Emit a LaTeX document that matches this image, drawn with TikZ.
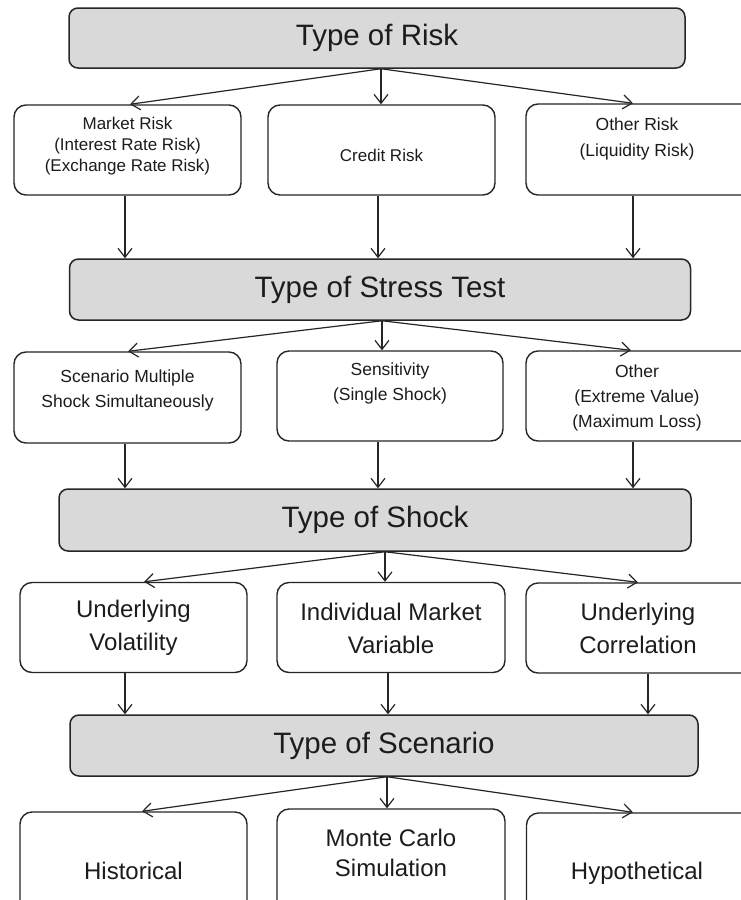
\documentclass[tikz,border=0pt]{standalone}
\usepackage{fontspec}
\setmainfont{Liberation Sans}
\usetikzlibrary{arrows.meta,calc}
\definecolor{hdrgray}{HTML}{D9D9D9}
\definecolor{txt}{HTML}{1C1C1C}
\tikzset{
  hdr/.style={draw=black!85, line width=1.5pt, fill=hdrgray, rounded corners=9pt, inner sep=0pt, text=txt,
    font=\fontsize{29.5}{34}\selectfont},
  box/.style={draw=black!85, line width=1.4pt, fill=white, rounded corners=12pt, inner sep=0pt},
  smalltxt/.style={align=center, text=txt, inner sep=0pt, font=\fontsize{17}{21}\selectfont},
  midtxt/.style={align=center, text=txt, inner sep=0pt, font=\fontsize{17.5}{25}\selectfont},
  bigtxt/.style={align=center, text=txt, inner sep=0pt, font=\fontsize{24}{33}\selectfont},
  arr/.style={draw=black!85, line width=1.2pt, -{Straight Barb[length=9pt,width=14pt,line width=1.2pt]}}
}
\begin{document}
\begin{tikzpicture}[x=1pt,y=-1pt]
\useasboundingbox (0,0) rectangle (741,900);
\fill[white] (0,0) rectangle (741,900);
\clip (0,0) rectangle (741,900);
% headers
\node[hdr, minimum width=616pt, minimum height=60pt] (h1) at (377,38) {Type of Risk};
\node[hdr, minimum width=621pt, minimum height=61pt] (h2) at (380,289.5) {Type of Stress Test};
\node[hdr, minimum width=632pt, minimum height=62pt] (h3) at (375,520) {Type of Shock};
\node[hdr, minimum width=628pt, minimum height=61pt] (h4) at (384,745.5) {Type of Scenario};
% row 2
\node[box, minimum width=227pt, minimum height=90pt] (r2a) at (127.5,150) {};
\node[box, minimum width=227pt, minimum height=90pt] (r2b) at (381.5,150) {};
\node[box, minimum width=227pt, minimum height=91pt] (r2c) at (639.5,149.5) {};
% row 4
\node[box, minimum width=227pt, minimum height=91pt] (r4a) at (127.5,397.5) {};
\node[box, minimum width=226pt, minimum height=90pt] (r4b) at (390,396) {};
\node[box, minimum width=227pt, minimum height=90pt] (r4c) at (639.5,396) {};
% row 6
\node[box, minimum width=227pt, minimum height=90pt] (r6a) at (133.5,627.5) {};
\node[box, minimum width=228pt, minimum height=90pt] (r6b) at (391,627.5) {};
\node[box, minimum width=227pt, minimum height=90pt] (r6c) at (639.5,628) {};
% row 8
\node[box, minimum width=227pt, minimum height=108pt] (r8a) at (133.5,866) {};
\node[box, minimum width=228pt, minimum height=111pt] (r8b) at (391,864.5) {};
\node[box, minimum width=227pt, minimum height=107pt] (r8c) at (640,866.5) {};
% texts
\node[smalltxt] (t2a) at (127.5,146) {Market Risk\\(Interest Rate Risk)\\(Exchange Rate Risk)};
\node[smalltxt] (t2b) at (381.5,155) {Credit Risk};
\node[smalltxt, font=\fontsize{17.5}{26}\selectfont] (t2c) at (637,139) {Other Risk\\(Liquidity Risk)};
\node[midtxt] (t4a) at (127.5,390) {Scenario Multiple\\Shock Simultaneously};
\node[midtxt] (t4b) at (390,383) {Sensitivity\\(Single Shock)};
\node[midtxt] (t4c) at (637,398) {Other\\(Extreme Value)\\(Maximum Loss)};
\node[bigtxt] (t6a) at (133.5,628) {Underlying\\Volatility};
\node[bigtxt] (t6b) at (391,628) {Individual Market\\Variable};
\node[bigtxt] (t6c) at (638,628) {Underlying\\Correlation};
\node[bigtxt] (t8a) at (133.5,871) {Historical};
\node[bigtxt, font=\fontsize{24}{30}\selectfont] (t8b) at (391,853) {Monte Carlo\\Simulation};
\node[bigtxt] (t8c) at (637,873) {Hypothetical};
% fans
\draw[arr] ([xshift=4pt]h1.south) -- ([xshift=2.5pt]r2a.north);
\draw[arr] ([xshift=4pt]h1.south) -- ([xshift=-0.5pt]r2b.north);
\draw[arr] ([xshift=4pt]h1.south) -- ([xshift=-6.5pt]r2c.north);
\draw[arr] ([xshift=2pt]h2.south) -- ([xshift=0.5pt]r4a.north);
\draw[arr] ([xshift=2pt]h2.south) -- ([xshift=-8pt]r4b.north);
\draw[arr] ([xshift=2pt]h2.south) -- ([xshift=-8.5pt]r4c.north);
\draw[arr] ([xshift=10pt]h3.south) -- ([xshift=10.5pt]r6a.north);
\draw[arr] ([xshift=10pt]h3.south) -- ([xshift=-6pt]r6b.north);
\draw[arr] ([xshift=10pt]h3.south) -- ([xshift=-1.5pt]r6c.north);
\draw[arr] ([xshift=3pt]h4.south) -- ([xshift=8.5pt]r8a.north);
\draw[arr] ([xshift=3pt]h4.south) -- ([xshift=-4pt]r8b.north);
\draw[arr] ([xshift=3pt]h4.south) -- ([xshift=-7pt]r8c.north);
% down arrows
\draw[arr] ([xshift=-2.5pt]r2a.south) -- ($(r2a.south |- h2.north)+(-2.5,0)$);
\draw[arr] ([xshift=-3.5pt]r2b.south) -- ($(r2b.south |- h2.north)+(-3.5,0)$);
\draw[arr] ([xshift=-6.5pt]r2c.south) -- ($(r2c.south |- h2.north)+(-6.5,0)$);
\draw[arr] ([xshift=-2.5pt]r4a.south) -- ($(r4a.south |- h3.north)+(-2.5,0)$);
\draw[arr] ([xshift=-12pt]r4b.south) -- ($(r4b.south |- h3.north)+(-12,0)$);
\draw[arr] ([xshift=-6.5pt]r4c.south) -- ($(r4c.south |- h3.north)+(-6.5,0)$);
\draw[arr] ([xshift=-8.5pt]r6a.south) -- ($(r6a.south |- h4.north)+(-8.5,0)$);
\draw[arr] ([xshift=-3pt]r6b.south) -- ($(r6b.south |- h4.north)+(-3,0)$);
\draw[arr] ([xshift=8.5pt]r6c.south) -- ($(r6c.south |- h4.north)+(8.5,0)$);
\end{tikzpicture}
\end{document}
